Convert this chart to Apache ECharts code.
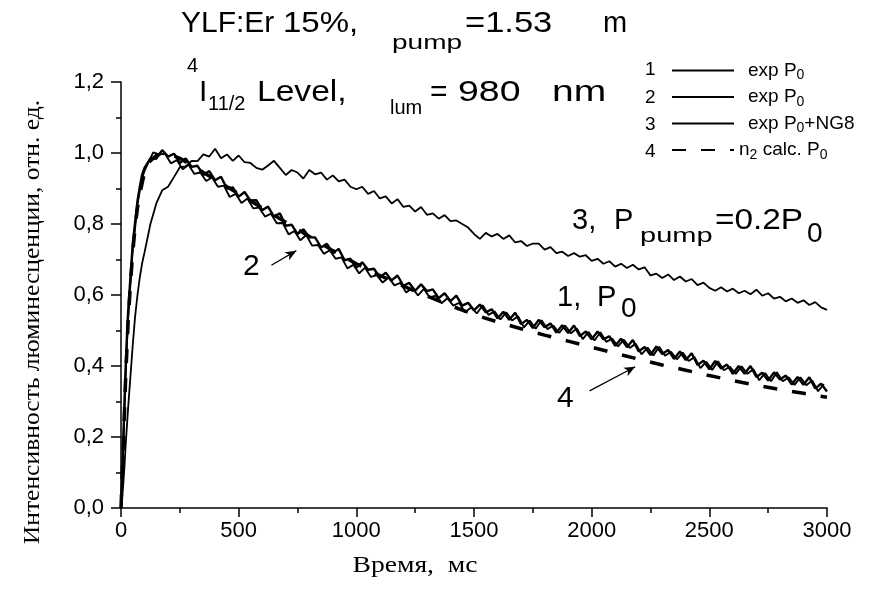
<!DOCTYPE html>
<html><head><meta charset="utf-8">
<script src="https://cdn.jsdelivr.net/npm/echarts@6/dist/echarts.min.js"></script>
<style>html,body{margin:0;padding:0;background:#fff}#c{width:889px;height:594px}</style>
</head><body><div id="c"></div>
<script>
// ---- data ----
const TIME = [0,5,10,15,20,25,30,40,50,60,70,80,90,100,125,150,175,200,225,250,275,300,325,350,375,400,425,450,475,500,525,550,575,600,625,650,675,700,725,750,775,800,825,850,875,900,925,950,975,1000,1025,1050,1075,1100,1125,1150,1175,1200,1225,1250,1275,1300,1325,1350,1375,1400,1425,1450,1475,1500,1525,1550,1575,1600,1625,1650,1675,1700,1725,1750,1775,1800,1825,1850,1875,1900,1925,1950,1975,2000,2025,2050,2075,2100,2125,2150,2175,2200,2225,2250,2275,2300,2325,2350,2375,2400,2425,2450,2475,2500,2525,2550,2575,2600,2625,2650,2675,2700,2725,2750,2775,2800,2825,2850,2875,2900,2925,2950,2975,3000];

const TIME_B = [0,5,10,15,20,25,30,40,50,60,70,80,90,100,112,137,162,187,212,237,262,287,312,337,362,387,412,437,462,487,512,537,562,587,612,637,662,687,712,737,762,787,812,837,862,887,912,937,962,987,1012,1037,1062,1087,1112,1137,1162,1187,1212,1237,1262,1287,1312,1337,1362,1387,1412,1437,1462,1487,1512,1537,1562,1587,1612,1637,1662,1687,1712,1737,1762,1787,1812,1837,1862,1887,1912,1937,1962,1987,2012,2037,2062,2087,2112,2137,2162,2187,2212,2237,2262,2287,2312,2337,2362,2387,2412,2437,2462,2487,2512,2537,2562,2587,2612,2637,2662,2687,2712,2737,2762,2787,2812,2837,2862,2887,2912,2937,2962,2987];

const EXP1 = [0,0.09,0.2,0.3,0.4,0.48,0.55,0.65,0.745,0.805,0.865,0.905,0.94,0.958,
0.985,0.984,1.008,0.990,0.998,0.972,0.985,0.961,0.964,0.938,0.949,0.923,0.933,0.900,0.903,0.877,
0.890,0.866,0.867,0.839,0.849,0.821,0.830,0.795,0.798,0.772,0.785,0.763,0.762,0.734,0.744,0.718,0.730,0.698,0.702,0.677,
0.692,0.671,0.674,0.649,0.663,0.641,0.655,0.626,0.634,0.612,0.630,0.611,0.616,0.591,0.605,0.583,0.598,0.570,0.578,0.557,
0.573,0.551,0.560,0.534,0.553,0.530,0.550,0.518,0.530,0.507,0.530,0.509,0.520,0.494,0.515,0.493,0.514,0.484,0.497,0.475,
0.497,0.475,0.484,0.457,0.477,0.453,0.473,0.441,0.454,0.431,0.455,0.434,0.445,0.420,0.441,0.417,0.436,0.403,0.415,0.391,
0.414,0.393,0.404,0.378,0.400,0.378,0.400,0.369,0.381,0.359,0.382,0.362,0.373,0.348,0.369,0.347,0.368,0.337,0.350,0.328];

const EXP2 = [0,0.08,0.18,0.28,0.38,0.46,0.53,0.63,0.73,0.79,0.855,0.895,0.93,0.95,
0.967,1.002,0.996,0.998,0.971,0.980,0.954,0.967,0.941,0.945,0.921,0.931,0.905,0.908,0.876,0.885,
0.859,0.872,0.844,0.846,0.821,0.829,0.802,0.803,0.771,0.780,0.754,0.769,0.739,0.741,0.716,0.726,0.702,0.706,0.675,0.685,
0.661,0.677,0.651,0.656,0.635,0.649,0.627,0.634,0.607,0.620,0.599,0.617,0.593,0.598,0.577,0.591,0.570,0.578,0.551,0.565,
0.548,0.571,0.544,0.554,0.531,0.551,0.528,0.540,0.509,0.528,0.505,0.529,0.504,0.514,0.493,0.514,0.492,0.506,0.476,0.496,
0.472,0.495,0.468,0.477,0.455,0.474,0.451,0.463,0.433,0.452,0.430,0.454,0.429,0.440,0.419,0.438,0.414,0.425,0.394,0.412,
0.389,0.413,0.388,0.398,0.378,0.399,0.378,0.391,0.360,0.380,0.357,0.382,0.357,0.368,0.347,0.368,0.346,0.359,0.329,0.349];

const EXP3_NG8 = [0,0.03,0.07,0.12,0.18,0.23,0.28,0.37,0.46,0.54,0.6,0.65,0.69,0.72,
0.80,0.858,0.895,0.905,0.932,0.960,0.962,0.978,0.977,0.996,0.99,1.012,0.985,0.996,0.978,0.993,
0.974,0.972,0.958,0.953,0.965,0.978,0.958,0.938,0.952,0.945,0.928,0.952,0.94,0.945,0.925,0.937,0.92,0.925,0.905,0.898,
0.905,0.885,0.893,0.872,0.878,0.858,0.87,0.848,0.852,0.835,0.848,0.826,0.83,0.815,0.825,0.808,0.81,0.8,0.79,0.772,
0.758,0.775,0.765,0.772,0.758,0.768,0.748,0.752,0.738,0.745,0.745,0.728,0.735,0.718,0.722,0.71,0.718,0.708,0.712,0.696,
0.702,0.688,0.695,0.68,0.688,0.676,0.685,0.672,0.678,0.655,0.66,0.648,0.658,0.642,0.652,0.638,0.645,0.628,0.635,0.62,
0.612,0.622,0.61,0.618,0.605,0.612,0.602,0.615,0.598,0.605,0.59,0.595,0.582,0.59,0.578,0.585,0.572,0.58,0.565,0.558];

const CALC_TIME = [0,10,20,30,40,50,60,70,80,100,120,150,180,200,250,300,400,500,600,700,800,900,1000,1100,1200,1300,1400,1500,1600,1700,1800,1900,2000,2100,2200,2300,2400,2500,2600,2700,2800,2900,3000];
const CALC_N2 = [0,0.18,0.37,0.52,0.63,0.72,0.79,0.845,0.885,0.945,0.975,0.993,1.0,0.998,0.985,0.965,0.925,0.885,0.845,0.805,0.765,0.725,0.688,0.655,0.625,0.597,0.57,0.545,0.524,0.505,0.487,0.47,0.453,0.436,0.419,0.403,0.388,0.373,0.359,0.346,0.334,0.323,0.312];

const SERIES_NAMES = ['1','2','3','4'];
const LEGEND_TEXT = ['{sp|}exp P{sub|0}','{sp|}exp P{sub|0}','{sp|}exp P{sub|0}+NG8','n{sub|2} calc. P{sub|0}'];
const ARROW_2 = [[639,0.684],[745,0.725]];
const ARROW_4 = [[1991,0.33],[2185,0.398]];

const X_TICKS = {min:0, max:3000, interval:500};
const Y_TICKS = {min:0, max:1.2, interval:0.2};

// ---- build ----
const pairs = (xs, ys) => xs.map((x,i)=>[x, ys[i]]);
const SANS = '"Liberation Sans", Arial, sans-serif';
const SERIF = '"Liberation Serif", "Times New Roman", serif';

const chart = echarts.init(document.getElementById('c'), null, {renderer:'canvas'});

function txt(text, x, y, size, sx, font, extra) {
  const el = {type:'text', x:x, y:y, scaleX:sx||1, silent:true, z:10,
    style:{text:text, fill:'#000', font: size+'px '+(font||SANS), verticalAlign:'middle', align:'left'}};
  if (extra) Object.assign(el, extra);
  return el;
}

const option = {
  animation:false,
  backgroundColor:'#fff',
  grid:{left:121, right:62, top:82, bottom:86, containLabel:false},
  xAxis:{type:'value', min:X_TICKS.min, max:X_TICKS.max, interval:X_TICKS.interval,
    axisLine:{show:true, onZero:false, lineStyle:{color:'#000', width:1.5}},
    axisTick:{show:true, inside:false, length:9, lineStyle:{color:'#000', width:1.5}},
    minorTick:{show:true, splitNumber:2, length:5, lineStyle:{color:'#000', width:1.5}},
    splitLine:{show:false},
    axisLabel:{color:'#000', fontFamily:SANS, fontSize:22, margin:12, formatter:v=>String(v)}},
  yAxis:{type:'value', min:Y_TICKS.min, max:Y_TICKS.max, interval:Y_TICKS.interval,
    axisLine:{show:true, onZero:false, lineStyle:{color:'#000', width:1.5}},
    axisTick:{show:true, inside:false, length:10, lineStyle:{color:'#000', width:1.5}},
    minorTick:{show:true, splitNumber:2, length:5, lineStyle:{color:'#000', width:1.5}},
    splitLine:{show:false},
    axisLabel:{color:'#000', fontFamily:SANS, fontSize:22, margin:17,
      formatter:v=>v.toFixed(1).replace('.',',')}},
  legend:{orient:'vertical', left:666, top:56, itemWidth:62, itemHeight:12, itemGap:5,
    selectedMode:false, data:SERIES_NAMES,
    itemStyle:{opacity:0},
    formatter:name=>LEGEND_TEXT[SERIES_NAMES.indexOf(name)],
    textStyle:{fontFamily:SANS, fontSize:19, color:'#000',
      rich:{sp:{width:9, fontSize:19}, sub:{fontSize:14, fontFamily:SANS, color:'#000', padding:[10,0,0,0]}}}},
  series:[
    {name:SERIES_NAMES[0], type:'line', data:pairs(TIME, EXP1), symbol:'none', z:3,
      lineStyle:{color:'#000', width:2.4}},
    {name:SERIES_NAMES[1], type:'line', data:pairs(TIME_B, EXP2), symbol:'none', z:3,
      lineStyle:{color:'#000', width:1.9}},
    {name:SERIES_NAMES[2], type:'line', data:pairs(TIME, EXP3_NG8), symbol:'none', z:3,
      lineStyle:{color:'#000', width:1.8}},
    {name:SERIES_NAMES[3], type:'line', data:pairs(CALC_TIME, CALC_N2), symbol:'none', z:4,
      lineStyle:{color:'#000', width:3.5, type:[14,15]},
      markLine:{silent:true, symbol:['none','arrow'], symbolSize:[7,11],
        label:{show:false}, lineStyle:{color:'#000', width:1.2, type:'solid'},
        data:[[{coord:ARROW_2[0]},{coord:ARROW_2[1]}],[{coord:ARROW_4[0]},{coord:ARROW_4[1]}]]}}
  ],
  graphic:[
    // title line 1
    txt('YLF:Er', 181, 24, 30),
    txt('15%,', 283, 24, 30, 1.1),
    txt('pump', 392, 43, 20, 1.4),
    txt('=1.53', 465, 24, 30, 1.15),
    txt('m', 603, 24, 29),
    // title line 2
    txt('4', 187, 66, 20),
    txt('I', 199, 93, 30),
    txt('11/2', 208, 104, 20),
    txt('Level,', 257, 93, 30, 1.12),
    txt('lum', 390, 108, 20),
    txt('=', 430, 93, 30),
    txt('980', 458, 93, 30, 1.25),
    txt('nm', 552, 93, 30, 1.3),
    // legend numbers
    txt('1', 645, 70, 19), txt('2', 645, 98, 19), txt('3', 645, 125, 19), txt('4', 645, 152, 19),
    // annotations
    txt('3,', 572, 221, 29),
    txt('P', 614, 221, 29),
    txt('pump', 640, 236, 20, 1.45),
    txt('=0.2P', 715, 221, 29, 1.15),
    txt('0', 807, 234, 28),
    txt('1,', 557, 298, 29),
    txt('P', 597, 298, 29),
    txt('0', 621, 309, 28),
    txt('2', 243, 267, 30),
    txt('4', 557, 399, 30),
    // axis names
    txt('', 415, 566, 24, 1.15, SERIF, {style:{text:'Время,  мс', fill:'#000', font:'24px '+SERIF, verticalAlign:'middle', align:'center'}}),
    txt('', 33, 322, 24, 1.065, SERIF, {rotation:Math.PI/2,
      style:{text:'Интенсивность люминесценции, отн. ед.', fill:'#000', font:'24px '+SERIF, verticalAlign:'middle', align:'center'}})
  ]
};
chart.setOption(option);
</script></body></html>
